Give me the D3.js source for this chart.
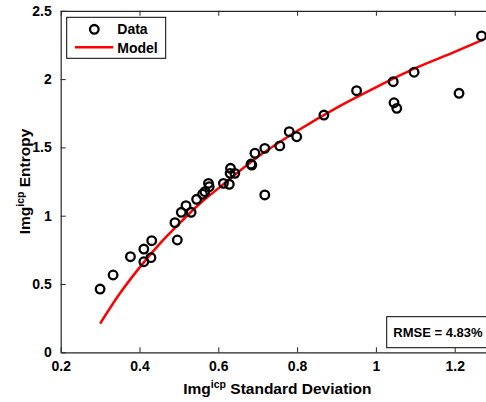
<!DOCTYPE html>
<html>
<head>
<meta charset="utf-8">
<script src="https://cdn.jsdelivr.net/npm/d3@7"></script>
<style>
  html, body { margin: 0; padding: 0; background: #fff; }
  svg { display: block; font-family: "Liberation Sans", Arial, sans-serif; font-weight: bold; }
</style>
</head>
<body>
<svg id="chart" width="486" height="402"></svg>
<script>
// ---- Data ----
const dataX = [0.300, 0.333, 0.377, 0.411, 0.411, 0.429, 0.431, 0.490, 0.496, 0.506,
               0.518, 0.531, 0.545, 0.560, 0.566, 0.575, 0.577, 0.613, 0.628, 0.631,
               0.630, 0.642, 0.685, 0.683, 0.693, 0.718, 0.718, 0.756, 0.780, 0.799,
               0.868, 0.951, 1.044, 1.046, 1.053, 1.097, 1.211, 1.268];
const dataY = [0.463, 0.566, 0.700, 0.756, 0.663, 0.693, 0.817, 0.949, 0.822, 1.025,
               1.073, 1.025, 1.120, 1.157, 1.176, 1.237, 1.212, 1.237, 1.230, 1.347,
               1.310, 1.310, 1.371, 1.378, 1.457, 1.493, 1.152, 1.511, 1.615, 1.578,
               1.737, 1.915, 1.981, 1.827, 1.786, 2.050, 1.896, 2.316];
const modelX = [0.30, 0.35, 0.40, 0.45, 0.50, 0.55, 0.60, 0.70, 0.80, 0.90, 1.00, 1.10, 1.20, 1.273];
const modelY = [0.21, 0.43, 0.62, 0.79, 0.94, 1.08, 1.20, 1.43, 1.62, 1.79, 1.94, 2.08, 2.20, 2.29];
const xTicks = [0.2, 0.4, 0.6, 0.8, 1, 1.2];
const yTicks = [0, 0.5, 1, 1.5, 2, 2.5];
const xTickLabels = ["0.2", "0.4", "0.6", "0.8", "1", "1.2"];
const yTickLabels = ["0", "0.5", "1", "1.5", "2", "2.5"];
const rmseText = "RMSE = 4.83%";

// ---- Layout ----
const L = 60.7, R = 494.1, T = 10.8, B = 352.3;
const x = d3.scaleLinear().domain([0.2, 1.3]).range([L, R]);
const y = d3.scaleLinear().domain([0, 2.5]).range([B, T]);

const svg = d3.select("#chart");
const axisColor = "#262626";

// axes (MATLAB-like box with inward ticks)
const gBottom = svg.append("g").attr("transform", `translate(0,${B})`)
  .call(d3.axisBottom(x).tickValues(xTicks).tickSizeInner(-5).tickSizeOuter(0)
        .tickPadding(9).tickFormat((d, i) => xTickLabels[i]));
const gTop = svg.append("g").attr("transform", `translate(0,${T})`)
  .call(d3.axisTop(x).tickValues(xTicks).tickSizeInner(-5).tickSizeOuter(0).tickFormat(""));
const gLeft = svg.append("g").attr("transform", `translate(${L},0)`)
  .call(d3.axisLeft(y).tickValues(yTicks).tickSizeInner(-5).tickSizeOuter(0)
        .tickPadding(9).tickFormat((d, i) => yTickLabels[i]));
[gBottom, gTop, gLeft].forEach(g => {
  g.select(".domain").attr("stroke", axisColor).attr("stroke-width", 1.2);
  g.selectAll(".tick line").attr("stroke", axisColor).attr("stroke-width", 1);
  g.selectAll(".tick text").attr("fill", "#000").style("font-size", "14px")
    .style("font-weight", "bold").style("font-family", "Liberation Sans, Arial, sans-serif");
});

// model curve
const line = d3.line().x(d => x(d[0])).y(d => y(d[1])).curve(d3.curveMonotoneX);
svg.append("path")
  .datum(modelX.map((v, i) => [v, modelY[i]]))
  .attr("d", line).attr("fill", "none").attr("stroke", "#ff0000").attr("stroke-width", 2.5);

// data points
svg.append("g").selectAll("circle")
  .data(dataX.map((v, i) => [v, dataY[i]]))
  .join("circle")
  .attr("cx", d => x(d[0])).attr("cy", d => y(d[1])).attr("r", 4.3)
  .attr("fill", "none").attr("stroke", "#000").attr("stroke-width", 2.3);

// legend
const lg = svg.append("g");
lg.append("rect").attr("x", 66.7).attr("y", 17.3).attr("width", 99).attr("height", 41)
  .attr("fill", "#fff").attr("stroke", "#000").attr("stroke-width", 1);
lg.append("circle").attr("cx", 94.3).attr("cy", 29.3).attr("r", 4.3)
  .attr("fill", "none").attr("stroke", "#000").attr("stroke-width", 2.3);
lg.append("text").attr("x", 117.3).attr("y", 34.3).style("font-size", "14px").text("Data");
lg.append("line").attr("x1", 75).attr("x2", 113.3).attr("y1", 47.3).attr("y2", 47.3)
  .attr("stroke", "#ff0000").attr("stroke-width", 2.5);
lg.append("text").attr("x", 117.3).attr("y", 52.5).style("font-size", "14px").text("Model");

// RMSE box
svg.append("rect").attr("x", 386.7).attr("y", 316.7).attr("width", 120).attr("height", 31)
  .attr("fill", "#fff").attr("stroke", "#000").attr("stroke-width", 1);
svg.append("text").attr("x", 393.3).attr("y", 336.8).style("font-size", "13px").text(rmseText);

// axis titles
const xt = svg.append("text").attr("x", (L + R) / 2).attr("y", 393.5)
  .attr("text-anchor", "middle").style("font-size", "15.5px");
xt.append("tspan").text("Img");
xt.append("tspan").attr("dy", -6).style("font-size", "10.5px").text("icp");
xt.append("tspan").attr("dy", 6).text(" Standard Deviation");

const yt = svg.append("text")
  .attr("transform", `translate(29.5,${(T + B) / 2}) rotate(-90)`)
  .attr("text-anchor", "middle").style("font-size", "15.5px");
yt.append("tspan").text("Img");
yt.append("tspan").attr("dy", -6).style("font-size", "10.5px").text("icp");
yt.append("tspan").attr("dy", 6).text(" Entropy");
</script>
</body>
</html>
